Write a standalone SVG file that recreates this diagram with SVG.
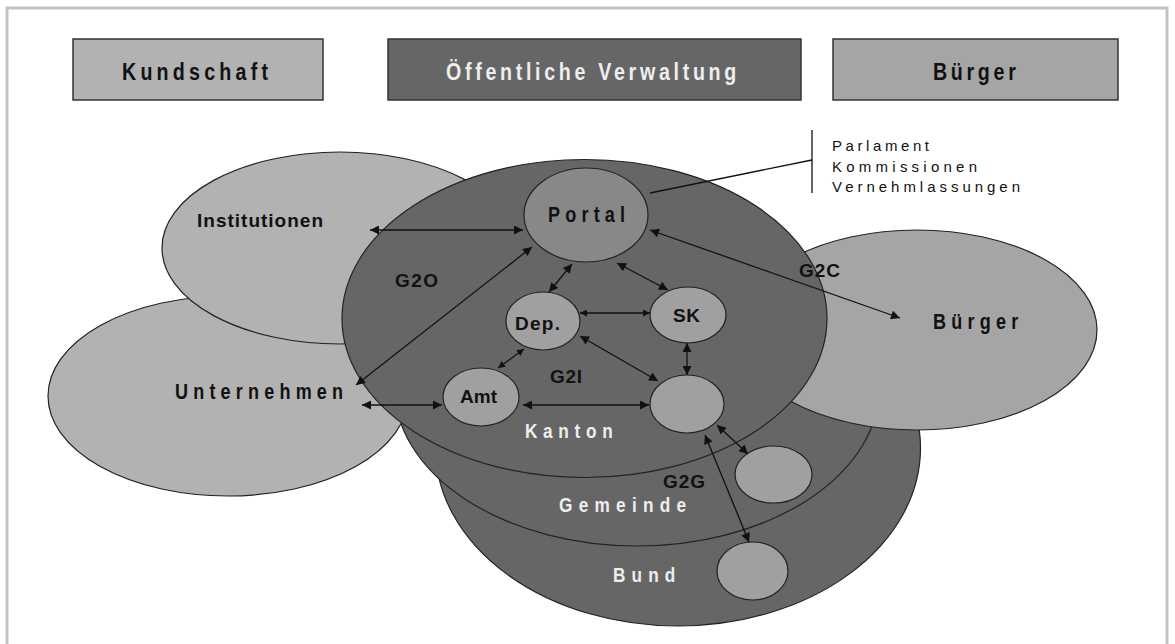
<svg xmlns="http://www.w3.org/2000/svg" width="1175" height="644" viewBox="0 0 1175 644">
  <style>
    .bg { fill: #ffffff; }
    .frame { fill: none; stroke: #c4c4c4; stroke-width: 3; }
    .box { stroke: #333333; stroke-width: 1.5; }
    .light { fill: #b2b2b2; }
    .mid { fill: #a5a5a5; }
    .dark { fill: #666666; }
    .shape { stroke: #222222; stroke-width: 1.2; }
    .node { fill: #a0a0a0; stroke: #222222; stroke-width: 1.2; }
    .portal { fill: #888888; stroke: #222222; stroke-width: 1.2; }
    .t { font-family: "Liberation Sans", Arial, sans-serif; font-weight: bold; fill: #111111; }
    .w { fill: #eeeeee; }
    .note { font-family: "Liberation Sans", Arial, sans-serif; font-size: 15px; fill: #111111; }
    .conn { stroke: #111111; stroke-width: 1.3; fill: none; }
  </style>
  <defs>
    <marker id="ah" viewBox="0 0 10 10" refX="10" refY="5" markerWidth="11" markerHeight="9" markerUnits="userSpaceOnUse" orient="auto-start-reverse">
      <path d="M0,0 L10,5 L0,10 z" fill="#111111"/>
    </marker>
    <marker id="ahs" viewBox="0 0 10 10" refX="10" refY="5" markerWidth="8" markerHeight="7" markerUnits="userSpaceOnUse" orient="auto-start-reverse">
      <path d="M0,0 L10,5 L0,10 z" fill="#111111"/>
    </marker>
  </defs>

  <rect class="bg" x="0" y="0" width="1175" height="644"/>
  <rect class="frame" x="7" y="8" width="1160" height="700"/>

  <!-- header boxes (spaced labels use narrowed glyphs) -->
  <g id="kundschaft-header">
    <rect class="box light" x="73" y="39" width="250" height="61"/>
    <text class="t" transform="translate(122,80) scale(0.82,1)" font-size="24" textLength="178">Kundschaft</text>
  </g>
  <g id="verwaltung-header">
    <rect class="box dark" x="388" y="39" width="413" height="61"/>
    <text class="t w" transform="translate(446,80) scale(0.82,1)" font-size="24" textLength="354">Öffentliche Verwaltung</text>
  </g>
  <g id="buerger-header">
    <rect class="box mid" x="833" y="39" width="285" height="61"/>
    <text class="t" transform="translate(933,80) scale(0.82,1)" font-size="24" textLength="101">Bürger</text>
  </g>

  <!-- government levels, back to front -->
  <g id="bund">
    <ellipse class="shape dark" cx="678" cy="448" rx="242.5" ry="178"/>
  </g>
  <g id="gemeinde">
    <ellipse class="shape dark" cx="637" cy="387" rx="242.5" ry="159"/>
  </g>

  <!-- customer groups -->
  <g id="unternehmen">
    <ellipse class="shape light" cx="228" cy="396" rx="180" ry="100"/>
    <text class="t" transform="translate(175,399) scale(0.82,1)" font-size="22" textLength="205">Unternehmen</text>
  </g>
  <g id="institutionen">
    <ellipse class="shape light" cx="340" cy="248" rx="178" ry="96"/>
    <text class="t" x="197" y="227" font-size="19" textLength="126">Institutionen</text>
  </g>
  <g id="buerger">
    <ellipse class="shape mid" cx="917" cy="330" rx="180" ry="100"/>
    <text class="t" transform="translate(933,329) scale(0.82,1)" font-size="22" textLength="104">Bürger</text>
  </g>

  <g id="kanton">
    <ellipse class="shape dark" cx="584.5" cy="318.5" rx="242.5" ry="159"/>
  </g>

  <!-- level labels -->
  <g id="kanton-label"><text class="t w" transform="translate(525,438) scale(0.82,1)" font-size="21" textLength="107">Kanton</text></g>
  <g id="gemeinde-label"><text class="t w" transform="translate(559,512) scale(0.82,1)" font-size="21" textLength="155">Gemeinde</text></g>
  <g id="bund-label"><text class="t w" transform="translate(613,582) scale(0.82,1)" font-size="21" textLength="76">Bund</text></g>

  <!-- offices -->
  <g id="portal">
    <ellipse class="portal" cx="586" cy="215" rx="62" ry="47"/>
    <text class="t" transform="translate(548,222) scale(0.82,1)" font-size="22" textLength="94">Portal</text>
  </g>
  <g id="dep">
    <ellipse class="node" cx="543" cy="321" rx="37" ry="29"/>
    <text class="t" x="515" y="330" font-size="19" textLength="45">Dep.</text>
  </g>
  <g id="sk">
    <ellipse class="node" cx="688" cy="315" rx="38" ry="28"/>
    <text class="t" x="673" y="322" font-size="19" textLength="27">SK</text>
  </g>
  <g id="amt">
    <ellipse class="node" cx="481" cy="397" rx="38" ry="29"/>
    <text class="t" x="460" y="403" font-size="19" textLength="37">Amt</text>
  </g>
  <g id="kanton-stelle">
    <ellipse class="node" cx="687" cy="404" rx="37" ry="29"/>
  </g>
  <g id="gemeinde-stelle">
    <ellipse class="node" cx="773.5" cy="474.5" rx="38.5" ry="28.5"/>
  </g>
  <g id="bund-stelle">
    <ellipse class="node" cx="752.5" cy="571" rx="35.5" ry="29"/>
  </g>

  <!-- relation labels -->
  <g id="g2o"><text class="t" x="395" y="287" font-size="19" textLength="43">G2O</text></g>
  <g id="g2i"><text class="t" x="550" y="383" font-size="19" textLength="32">G2I</text></g>
  <g id="g2c"><text class="t" x="799" y="277" font-size="19" textLength="41">G2C</text></g>
  <g id="g2g"><text class="t" x="663" y="488" font-size="19" textLength="42">G2G</text></g>

  <!-- portal audiences -->
  <g id="gremien">
    <line class="conn" x1="812" y1="130" x2="812" y2="193"/>
    <text class="note" x="832" y="151" textLength="97">Parlament</text>
    <text class="note" x="832" y="172" textLength="145">Kommissionen</text>
    <text class="note" x="832" y="192" textLength="188">Vernehmlassungen</text>
  </g>

  <g id="connectors">
    <line class="conn" x1="650" y1="193" x2="812" y2="160"/>
    <line class="conn" x1="370" y1="230" x2="523" y2="230" marker-start="url(#ah)" marker-end="url(#ah)"/>
    <line class="conn" x1="356" y1="385" x2="532" y2="247" marker-start="url(#ah)" marker-end="url(#ah)"/>
    <line class="conn" x1="362" y1="405" x2="442" y2="405" marker-start="url(#ah)" marker-end="url(#ah)"/>
    <line class="conn" x1="523" y1="405" x2="649" y2="405" marker-start="url(#ah)" marker-end="url(#ah)"/>
    <line class="conn" x1="572" y1="264" x2="549" y2="292" marker-start="url(#ah)" marker-end="url(#ah)"/>
    <line class="conn" x1="617" y1="263" x2="668" y2="290" marker-start="url(#ah)" marker-end="url(#ah)"/>
    <line class="conn" x1="580" y1="313" x2="650" y2="313" marker-start="url(#ahs)" marker-end="url(#ahs)"/>
    <line class="conn" x1="524" y1="349" x2="498" y2="368" marker-start="url(#ahs)" marker-end="url(#ahs)"/>
    <line class="conn" x1="580" y1="336" x2="658" y2="381" marker-start="url(#ah)" marker-end="url(#ah)"/>
    <line class="conn" x1="687" y1="343" x2="687" y2="375" marker-start="url(#ah)" marker-end="url(#ah)"/>
    <line class="conn" x1="650" y1="230" x2="900" y2="318" marker-start="url(#ah)" marker-end="url(#ah)"/>
    <line class="conn" x1="717" y1="425" x2="748" y2="454" marker-start="url(#ah)" marker-end="url(#ah)"/>
    <line class="conn" x1="705" y1="435" x2="749" y2="542" marker-start="url(#ah)" marker-end="url(#ah)"/>
  </g>
</svg>
